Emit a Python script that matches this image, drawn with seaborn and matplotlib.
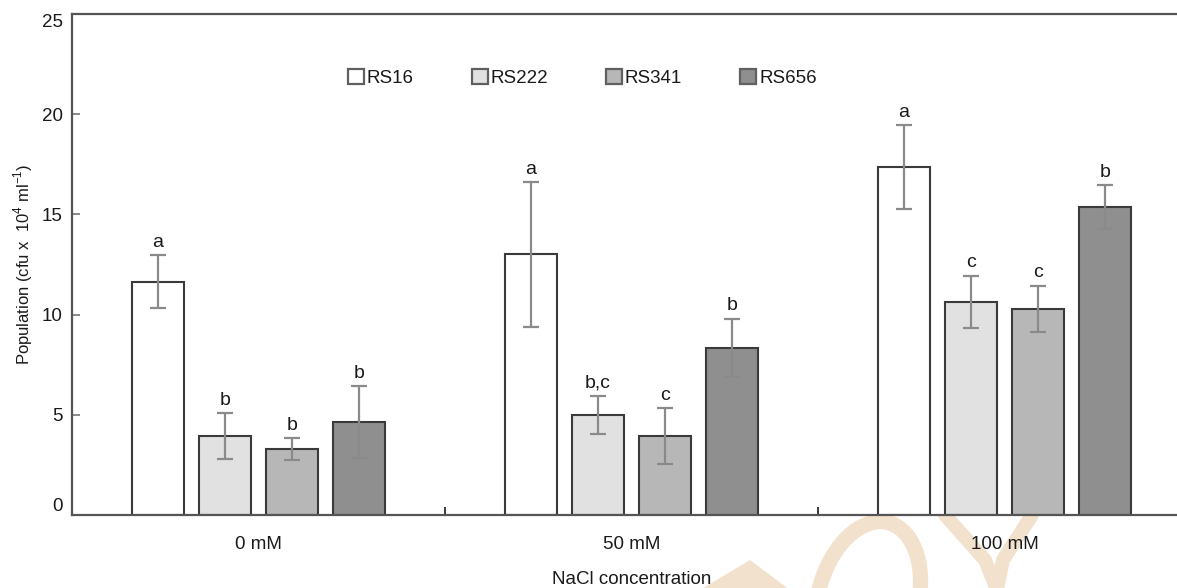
import matplotlib
matplotlib.use("Agg")
import matplotlib.pyplot as plt
from matplotlib.patches import Patch, Polygon, Ellipse
from matplotlib.transforms import IdentityTransform
import pandas as pd
import seaborn as sns

# NaCl treatments and bacterial strains
concentrations = ["0 mM", "50 mM", "100 mM"]
strains = ["RS16", "RS222", "RS341", "RS656"]

# mean population (cfu x 10^4 ml^-1) per strain, in treatment order
rs16_mean = [11.65, 13.0, 17.35]
rs222_mean = [3.95, 5.0, 10.65]
rs341_mean = [3.3, 3.95, 10.3]
rs656_mean = [4.65, 8.35, 15.35]

# standard errors
rs16_err = [1.3, 3.6, 2.1]
rs222_err = [1.15, 0.95, 1.3]
rs341_err = [0.55, 1.4, 1.15]
rs656_err = [1.8, 1.45, 1.1]

# significance letters
rs16_sig = ["a", "a", "a"]
rs222_sig = ["b", "b,c", "c"]
rs341_sig = ["b", "c", "c"]
rs656_sig = ["b", "b", "b"]

y_ticks = [0, 5, 10, 15, 20, 25]

means = [rs16_mean, rs222_mean, rs341_mean, rs656_mean]
errs = [rs16_err, rs222_err, rs341_err, rs656_err]
sigs = [rs16_sig, rs222_sig, rs341_sig, rs656_sig]

df = pd.DataFrame(
    [(c, s, means[i][j]) for i, s in enumerate(strains) for j, c in enumerate(concentrations)],
    columns=["conc", "strain", "pop"],
)

sns.set_theme(style="white")
plt.rcParams["font.family"] = ["Liberation Sans", "DejaVu Sans"]
plt.rcParams["mathtext.fontset"] = "custom"
plt.rcParams["mathtext.rm"] = "Liberation Sans"

W, H = 1177, 588
fig = plt.figure(figsize=(W / 100, H / 100), dpi=100)
ax = fig.add_axes([72 / W, 73 / H, (1191 - 72) / W, (515 - 14) / H])
ax.set_facecolor("white")

fills = ["#ffffff", "#e1e1e1", "#b7b7b7", "#8f8f8f"]
edge = "#3a3a3a"
palette = dict(zip(strains, fills))
txt = "#1a1a1a"

sns.barplot(
    data=df, x="conc", y="pop", hue="strain", order=concentrations,
    hue_order=strains, palette=palette, width=0.72, gap=0.22,
    edgecolor=edge, linewidth=1.5, errorbar=None, legend=False, ax=ax,
    saturation=1,
)

# error bars and significance letters on each bar
bar_groups = list(ax.containers)
for i, cont in enumerate(bar_groups):
    for j, bar in enumerate(cont.patches):
        xc = bar.get_x() + bar.get_width() / 2
        h = bar.get_height()
        ax.errorbar(xc, h, yerr=errs[i][j], fmt="none", ecolor="#8a8a8a",
                    elinewidth=1.6, capsize=6, capthick=1.6, zorder=4)
        ax.annotate(sigs[i][j], (xc, h + errs[i][j]), xytext=(0, 3),
                    textcoords="offset points", ha="center", va="bottom",
                    fontsize=14, color=txt)

ax.set_ylim(0, 25)
ax.set_xlim(-0.5, 2.5)
ax.set_yticks(y_ticks)
ax.set_yticklabels([str(t) for t in y_ticks])
ax.tick_params(axis="y", direction="in", length=6, width=1.4, color="#8a8a8a",
               labelsize=13.5, pad=6.5, labelcolor=txt, left=True)
ax.tick_params(axis="x", which="major", length=0, labelsize=13.5, pad=15,
               labelcolor=txt, bottom=True)
ax.set_xticks([0.5, 1.5], minor=True)
ax.tick_params(axis="x", which="minor", direction="in", length=6, width=1.4,
               color="#3a3a3a", bottom=True)
# end labels sit inside the axis range
ylabels = ax.get_yticklabels()
ylabels[0].set_va("bottom")
ylabels[-1].set_va("top")

for side in ["left", "bottom", "top"]:
    ax.spines[side].set_color("#555555")
    ax.spines[side].set_linewidth(1.6)
ax.spines["right"].set_visible(False)

ax.set_xlabel("NaCl concentration", fontsize=13.5, color=txt, labelpad=13)
ax.set_ylabel("Population (cfu x  10$^{4}$ ml$^{-1}$)", fontsize=12,
              color=txt, labelpad=5)

handles = [Patch(facecolor=f, edgecolor="#606060", linewidth=1.6) for f in fills]
ax.legend(handles, strains, loc="center", bbox_to_anchor=(0.456, 0.872), ncol=4,
          frameon=False, fontsize=13.5, handlelength=0.85, handleheight=0.85,
          handletextpad=0.15, columnspacing=3.1, labelcolor=txt)

# faint publisher mark beneath the axis
peach = "#f2e1cc"
def px(x, y):
    return (x, H - y)
tri = Polygon([px(700, 590), px(750, 560), px(790, 590)], closed=True,
              facecolor=peach, edgecolor="none", transform=IdentityTransform(), zorder=-2)
ring = Ellipse(px(868, 600), 100, 160, angle=-15, fill=False, edgecolor=peach,
               linewidth=11, transform=IdentityTransform(), zorder=-2)
fig.patches.extend([tri, ring])
for seg in ([px(945, 515), px(985, 560), px(997, 590)],
            [px(1032, 515), px(1003, 560), px(997, 590)]):
    xs, ys = zip(*seg)
    fig.lines.append(plt.Line2D(xs, ys, color=peach, linewidth=10,
                                transform=IdentityTransform(), zorder=-2,
                                solid_capstyle="round"))

fig.savefig("out.png", dpi=100)
